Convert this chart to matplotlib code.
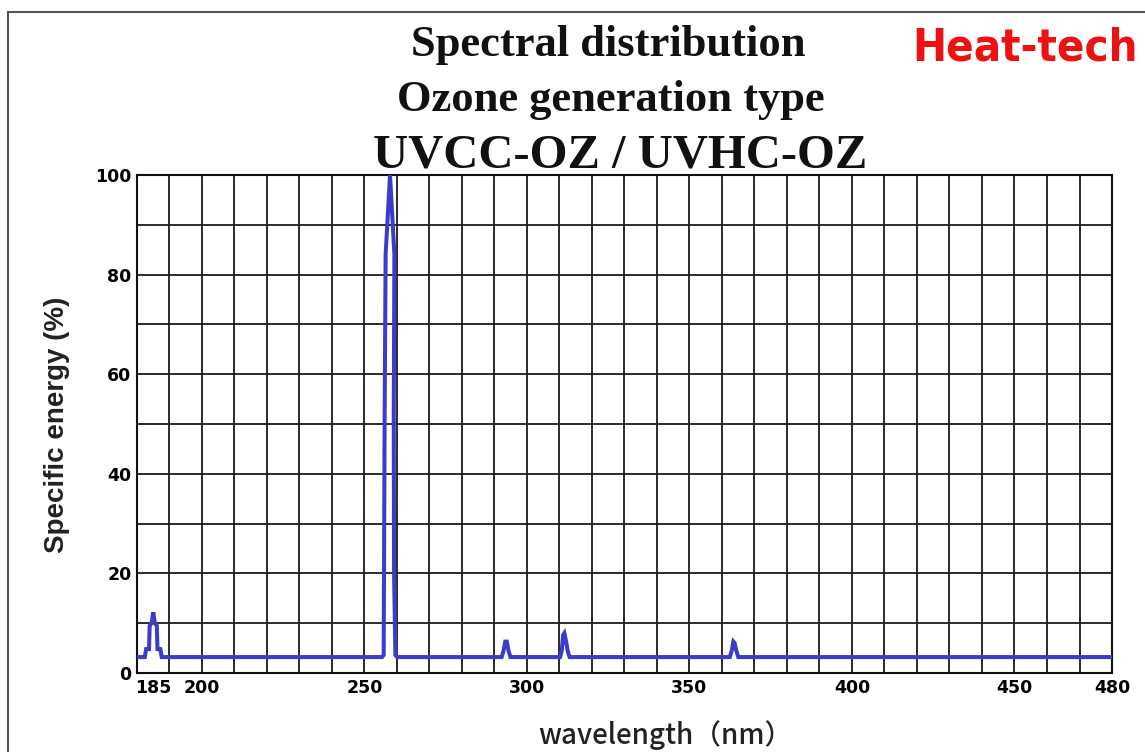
import matplotlib
matplotlib.use('Agg')
import matplotlib.pyplot as plt
from matplotlib import font_manager

# spectrum trace (nm, %)
wavelength = [180, 182.4, 182.8, 183.7, 183.9, 184.5, 185.0, 185.5, 186.1, 186.3, 187.2, 187.6,
              255.4, 255.9, 256.0, 256.2, 256.5, 257.85, 259.2, 259.0, 259.1, 259.5, 260.0,
              292.2, 292.8, 293.3, 293.8, 294.3, 294.9,
              310.2, 310.7, 311.1, 311.5, 312.0, 312.5, 313.1,
              362.4, 363.0, 363.5, 363.9, 364.4, 365.0,
              480]
energy = [3.2, 3.2, 4.8, 4.8, 9.5, 10.0, 12.2, 10.0, 9.5, 4.8, 4.8, 3.2,
          3.2, 3.6, 20, 52, 84, 100, 84, 52, 20, 3.6, 3.2,
          3.2, 4.5, 6.3, 6.3, 4.5, 3.2,
          3.2, 4.5, 7.6, 8.0, 6.4, 4.5, 3.2,
          3.2, 4.5, 6.3, 6.0, 4.5, 3.2,
          3.2]

xticks = [185, 200, 250, 300, 350, 400, 450, 480]
yticks = [0, 20, 40, 60, 80, 100]
titles = ['Spectral distribution', 'Ozone generation type', 'UVCC-OZ / UVHC-OZ']

W, H = 1145, 752
fig = plt.figure(figsize=(W / 100, H / 100), dpi=100)
ax = fig.add_axes([137 / W, 1 - 673 / H, (1112 - 137) / W, (673 - 175) / H])

# outer frame (top and left edges visible)
fig.add_artist(plt.Line2D([8 / W, 1], [1 - 12 / H, 1 - 12 / H], color='#555555', lw=1.5))
fig.add_artist(plt.Line2D([8 / W, 8 / W], [0, 1 - 12 / H], color='#555555', lw=1.5))

for x in range(190, 480, 10):
    ax.axvline(x, color='#1a1a1a', lw=1.3, zorder=1)
for y in range(10, 100, 10):
    ax.axhline(y, color='#1a1a1a', lw=1.3, zorder=1)

ax.plot(wavelength, energy, color='#3c3cc8', lw=2.9, solid_joinstyle='miter', zorder=3)

ax.set_xlim(180, 480)
ax.set_ylim(0, 100)
ax.set_xticks(xticks)
ax.set_yticks(yticks)
ax.tick_params(length=0, pad=4, labelsize=12.5)
for lbl in ax.get_xticklabels() + ax.get_yticklabels():
    lbl.set_fontfamily('DejaVu Sans')
    lbl.set_fontweight('bold')
for s in ax.spines.values():
    s.set_linewidth(1.5)
    s.set_color('#111111')

ys = [45, 100, 155]
sizes = [32, 32, 35]
xs = [608, 611, 620]
for t, x, y, sz in zip(titles, xs, ys, sizes):
    fig.text(x / W, 1 - y / H, t, ha='center', va='center', fontsize=sz,
             family='Liberation Serif', weight='bold', color='#111111')

# condensed bold logo text; shrink to the reference width if no narrow face exists
names = {f.name for f in font_manager.fontManager.ttflist}
logo_family = 'Liberation Sans Narrow' if 'Liberation Sans Narrow' in names else 'DejaVu Sans'
logo = fig.text(1025 / W, 1 - 48 / H, 'Heat-tech', ha='center', va='center', fontsize=42,
                family=logo_family, weight='bold', stretch='condensed', color='#ee1111')
renderer = fig.canvas.get_renderer()
w = logo.get_window_extent(renderer).width
if w > 226:
    logo.set_fontsize(42 * 226 / w)

fig.text(57 / W, 1 - 425 / H, 'Specific energy (%)', ha='center', va='center', rotation=90,
         fontsize=20, family='Liberation Sans', weight='bold', color='#222222')
fig.text(665 / W, 1 - 735 / H, 'wavelength（nm）', ha='center', va='center',
         fontsize=20, family=['Noto Sans CJK JP', 'DejaVu Sans'], weight='medium', color='#222222')

fig.savefig('out.png', dpi=100)
